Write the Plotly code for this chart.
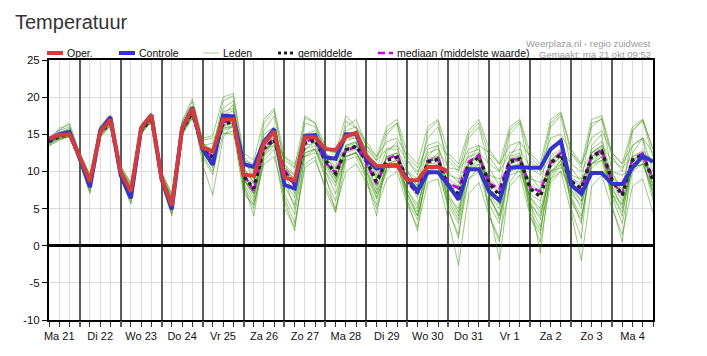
import plotly.graph_objects as go

# ---------------- data ----------------
DAY_LABELS = ["Ma 21", "Di 22", "Wo 23", "Do 24", "Vr 25", "Za 26", "Zo 27", "Ma 28",
              "Di 29", "Wo 30", "Do 31", "Vr 1", "Za 2", "Zo 3", "Ma 4"]
LEAD_HOURS = list(range(6, 361, 6))          # forecast steps, hours after Ma 21 00:00
Y_TICKS = [-10, -5, 0, 5, 10, 15, 20, 25]

OPER = [14.4, 14.9, 15.0,
        12.0, 8.6, 15.3, 17.0,
        9.9, 7.3, 15.8, 17.6,
        9.0, 5.4, 15.8, 18.5,
        13.2, 12.7, 17.0, 17.0,
        9.6, 9.4, 13.8, 15.4,
        9.2, 8.8, 14.6, 14.6,
        13.0, 12.9, 14.7, 15.2,
        12.1, 10.7, 10.8, 10.8,
        8.8, 8.8, 10.6, 10.6,
        10.0]

CONTROLE = [14.2, 15.0, 15.3,
            11.8, 7.9, 15.5, 17.3,
            9.5, 6.4, 15.8, 17.6,
            9.0, 4.9, 15.8, 18.6,
            13.0, 10.9, 17.5, 17.4,
            11.0, 10.6, 14.0, 15.7,
            8.2, 7.7, 14.8, 14.9,
            11.9, 11.7, 15.0, 15.0,
            11.6, 10.4, 10.8, 10.8,
            9.1, 7.3, 9.9, 9.9,
            8.2, 6.2, 10.3, 10.3,
            7.3, 6.1, 10.5, 10.6,
            10.5, 10.5, 13.0, 14.1,
            8.2, 7.0, 9.8, 9.8,
            8.3, 8.3, 10.5, 12.1,
            11.3]

GEMIDDELDE = [14.0, 14.7, 15.0,
              11.8, 8.3, 15.2, 16.6,
              9.8, 7.0, 15.5, 17.2,
              9.0, 5.5, 15.5, 18.0,
              13.0, 11.9, 16.4, 16.7,
              9.4, 7.7, 13.1, 14.3,
              9.8, 8.3, 13.8, 14.2,
              11.5, 9.7, 12.9, 13.4,
              11.5, 8.6, 11.5, 11.9,
              8.8, 7.1, 11.3, 11.6,
              7.9, 7.0, 10.9, 11.9,
              8.4, 6.8, 11.3, 11.7,
              7.7, 6.6, 11.1, 12.3,
              8.6, 7.7, 12.0, 12.7,
              8.8, 6.8, 11.5, 12.2,
              8.8]

MEDIAAN = [14.1, 14.8, 15.0,
           11.9, 8.4, 15.3, 16.8,
           9.8, 7.1, 15.6, 17.3,
           9.0, 5.6, 15.6, 18.1,
           13.0, 12.0, 16.6, 16.8,
           9.6, 7.4, 13.2, 14.5,
           10.3, 8.1, 14.0, 14.4,
           11.2, 9.8, 12.8, 13.3,
           11.2, 8.3, 11.6, 12.3,
           8.6, 7.0, 11.4, 11.8,
           8.4, 7.8, 11.3, 12.2,
           8.4, 7.6, 11.6, 11.6,
           7.9, 7.3, 11.2, 12.5,
           8.8, 7.6, 12.1, 12.9,
           8.6, 7.0, 11.7, 12.4,
           9.0]

LEDEN = [
    [13.6, 14.5, 15.2, 11.2, 7.0, 15.6, 17.0, 9.0, 5.6, 15.2, 17.4, 8.2, 4.0, 15.0, 18.6,
     12.0, 9.5, 17.5, 18.2, 7.5, 5.0, 12.5, 14.0, 7.0, 4.2, 12.0, 13.0, 9.0, 6.0, 12.0, 12.6,
     9.5, 6.3, 10.5, 11.0, 6.0, 3.5, 10.0, 10.8, 4.8, 1.5, 9.0, 10.5, 5.5, 3.0, 10.5, 11.2,
     4.5, 2.0, 9.5, 11.5, 6.0, 3.5, 11.0, 12.5, 7.0, 4.5, 10.5, 11.8, 6.0],
    [14.6, 15.2, 15.6, 12.4, 9.5, 14.8, 16.2, 10.6, 8.5, 15.8, 16.8, 9.8, 7.0, 16.0, 17.6,
     14.2, 14.5, 15.2, 15.0, 11.5, 11.0, 14.5, 15.0, 11.5, 10.5, 14.6, 14.8, 13.0, 12.5, 14.2, 14.5,
     13.0, 11.5, 13.0, 13.5, 11.5, 10.0, 12.5, 13.0, 10.5, 10.2, 12.0, 12.5, 11.0, 10.0, 12.5, 13.0,
     10.5, 9.5, 12.0, 13.0, 11.0, 10.0, 12.5, 13.5, 11.5, 10.5, 12.0, 12.8, 11.5],
    [14.2, 15.8, 16.3, 12.0, 8.8, 16.0, 17.5, 10.2, 7.6, 16.2, 17.8, 9.3, 6.0, 16.6, 19.4,
     13.8, 12.8, 19.5, 20.2, 11.8, 9.0, 16.5, 18.2, 11.0, 8.5, 17.2, 16.5, 12.5, 10.5, 16.8, 15.8,
     13.0, 10.0, 15.0, 16.5, 10.0, 8.0, 15.5, 16.8, 10.0, 8.5, 14.5, 16.0, 10.5, 8.0, 15.0, 16.5,
     9.5, 7.5, 16.0, 17.5, 10.5, 8.5, 16.5, 17.0, 10.0, 7.0, 15.5, 16.8, 12.0],
    [13.4, 14.2, 14.8, 11.5, 8.0, 15.0, 16.4, 9.5, 6.5, 15.0, 16.8, 8.8, 5.0, 15.2, 17.5,
     12.5, 10.8, 15.8, 16.0, 8.0, 5.5, 11.0, 12.0, 6.5, 3.0, 10.5, 11.5, 8.0, 5.0, 10.0, 11.0,
     8.5, 5.0, 9.0, 10.0, 5.5, 2.5, 8.5, 9.0, 3.5, -2.6, 7.0, 8.5, 4.0, 1.0, 8.0, 9.5,
     4.0, 0.5, 8.5, 10.0, 4.5, -2.0, 8.0, 9.5, 5.0, 1.5, 8.0, 9.0, 4.5],
    [13.9, 14.6, 14.9, 11.6, 8.0, 15.1, 16.5, 9.6, 6.8, 15.4, 17.0, 8.8, 5.2, 15.3, 17.8,
     12.8, 11.5, 16.0, 16.5, 9.0, 7.0, 12.8, 14.0, 9.5, 8.0, 13.5, 13.8, 11.0, 9.0, 12.5, 13.0,
     11.0, 8.0, 11.0, 11.5, 8.5, 6.5, 11.0, 11.2, 7.5, 6.5, 10.5, 11.5, 8.0, 6.0, 11.0, 11.5,
     7.0, 6.0, 10.8, 12.0, 8.0, 7.0, 11.5, 12.5, 8.5, 6.0, 11.0, 11.8, 8.5],
    [14.3, 15.0, 15.3, 12.0, 8.6, 15.4, 16.8, 10.0, 7.3, 15.7, 17.4, 9.2, 5.8, 15.7, 18.3,
     13.3, 12.3, 16.8, 17.0, 10.0, 8.3, 13.5, 14.8, 10.2, 8.8, 14.2, 14.6, 12.0, 10.3, 13.3, 13.8,
     12.0, 9.2, 12.0, 12.5, 9.3, 7.8, 11.8, 12.0, 8.5, 7.5, 11.4, 12.3, 9.0, 7.5, 11.7, 12.2,
     8.3, 7.3, 11.6, 12.8, 9.2, 8.3, 12.5, 13.2, 9.3, 7.5, 12.0, 12.6, 9.3],
    [14.0, 14.4, 14.6, 12.3, 9.2, 14.6, 16.0, 10.5, 8.0, 15.2, 16.6, 9.6, 6.5, 14.8, 17.2,
     13.5, 13.8, 18.0, 18.5, 10.5, 8.5, 15.0, 16.0, 9.0, 5.0, 13.0, 13.5, 10.0, 7.0, 12.0, 12.5,
     10.5, 7.0, 11.0, 11.0, 7.0, 4.0, 9.5, 10.0, 5.5, 3.0, 9.0, 10.0, 5.0, -1.9, 8.5, 10.5,
     5.5, 2.5, 9.0, 11.0, 6.5, 4.0, 10.5, 11.5, 6.5, 3.0, 10.0, 11.0, 7.0],
    [14.5, 15.3, 15.6, 12.2, 9.0, 15.8, 17.2, 10.3, 7.8, 15.9, 17.6, 9.5, 6.2, 16.2, 18.8,
     14.0, 12.0, 17.0, 17.5, 12.0, 10.5, 14.0, 14.5, 12.0, 11.0, 15.0, 15.5, 13.5, 12.0, 15.5, 16.0,
     13.5, 12.0, 14.0, 14.5, 12.0, 10.5, 13.5, 14.0, 12.0, 10.5, 13.0, 13.5, 12.5, 11.0, 13.5, 14.0,
     12.0, 10.5, 14.5, 15.0, 12.5, 11.0, 14.5, 15.5, 12.5, 11.0, 13.5, 14.5, 12.5],
    [13.7, 14.9, 15.4, 11.4, 7.5, 15.3, 16.9, 9.3, 6.2, 15.6, 17.1, 8.5, 4.3, 15.8, 18.4,
     11.0, 6.8, 14.5, 16.5, 8.5, 6.0, 13.5, 15.0, 10.0, 8.5, 14.5, 14.0, 11.0, 8.5, 12.0, 12.5,
     10.0, 6.5, 10.0, 11.5, 7.5, 5.0, 11.0, 12.5, 7.0, 4.5, 11.0, 12.5, 7.5, 5.5, 12.0, 12.5,
     6.0, -1.0, 10.5, 12.0, 7.5, 5.0, 12.0, 13.0, 8.0, 5.0, 11.5, 12.5, 8.0],
    [14.1, 15.2, 15.8, 11.8, 7.8, 15.5, 17.4, 9.6, 6.6, 15.8, 17.6, 8.6, 4.8, 15.4, 18.2,
     12.5, 10.5, 17.5, 19.0, 8.5, 4.0, 12.0, 14.5, 6.0, 2.0, 12.5, 13.0, 9.5, 4.5, 13.5, 14.0,
     9.0, 4.0, 12.5, 14.0, 6.0, 2.0, 12.0, 13.5, 5.0, 1.0, 11.5, 13.5, 4.0, 0.5, 12.0, 14.0,
     4.0, 1.5, 12.5, 14.5, 5.0, 1.0, 13.5, 15.0, 5.5, 0.5, 12.5, 14.5, 6.5],
    [14.3, 15.5, 16.0, 12.1, 8.5, 15.5, 17.0, 10.1, 7.5, 15.9, 17.5, 9.2, 5.8, 16.0, 18.8,
     13.5, 13.0, 18.5, 19.5, 10.5, 8.5, 15.5, 17.5, 11.0, 9.5, 16.5, 16.0, 12.5, 11.5, 16.0, 17.0,
     13.5, 11.5, 15.5, 16.5, 11.5, 9.5, 14.5, 16.0, 11.5, 10.0, 15.0, 16.5, 12.0, 10.0, 15.5, 16.8,
     11.5, 10.0, 16.5, 17.8, 12.5, 10.5, 16.0, 17.2, 12.0, 10.0, 15.5, 17.0, 13.0],
    [14.0, 14.8, 15.1, 11.9, 8.4, 15.2, 16.7, 9.9, 7.1, 15.5, 17.2, 9.1, 5.6, 15.6, 18.0,
     13.0, 12.0, 16.2, 16.5, 9.5, 7.5, 13.0, 14.0, 10.5, 9.0, 14.0, 14.5, 11.5, 9.0, 13.0, 13.5,
     11.5, 9.0, 12.0, 12.0, 9.0, 7.5, 11.5, 11.5, 8.5, 7.5, 11.0, 12.0, 8.5, 7.0, 11.0, 11.5,
     8.0, 7.0, 11.5, 12.5, 9.0, 8.0, 12.0, 12.5, 9.0, 7.0, 11.5, 12.0, 9.0],
    [13.5, 14.3, 14.7, 11.3, 7.2, 14.9, 16.3, 9.2, 5.8, 15.1, 16.8, 8.4, 4.5, 15.0, 17.6,
     12.2, 10.0, 15.0, 15.5, 7.0, 5.5, 11.5, 13.0, 5.0, 2.5, 11.0, 12.0, 7.5, 4.5, 11.5, 12.0,
     9.0, 5.5, 10.5, 11.0, 6.5, 4.0, 10.0, 10.5, 6.0, 3.5, 10.5, 11.0, 6.5, 4.0, 10.0, 11.0,
     5.5, 4.0, 10.0, 11.0, 7.0, 5.5, 11.0, 12.0, 7.0, 5.5, 10.5, 11.0, 7.5],
    [14.4, 14.9, 15.2, 12.2, 9.2, 15.0, 16.4, 10.4, 8.2, 15.3, 16.6, 9.5, 6.5, 15.2, 17.2,
     13.5, 12.5, 15.5, 16.0, 11.0, 10.0, 13.0, 13.5, 10.5, 9.5, 12.0, 12.5, 12.0, 11.5, 13.0, 13.5,
     12.0, 10.5, 11.0, 11.5, 10.0, 9.0, 10.5, 10.5, 9.5, 9.0, 10.0, 10.5, 9.5, 9.0, 10.0, 10.5,
     9.0, 8.5, 10.0, 10.5, 9.5, 9.0, 11.0, 11.5, 10.0, 9.5, 10.5, 11.0, 10.0],
    [14.6, 15.6, 16.5, 12.5, 9.6, 16.2, 17.6, 10.8, 8.4, 16.4, 17.9, 10.0, 6.8, 16.8, 19.8,
     14.5, 14.8, 20.0, 20.5, 12.5, 11.5, 17.0, 18.5, 12.0, 10.5, 17.5, 16.5, 13.5, 12.5, 17.5, 16.0,
     14.0, 12.0, 16.0, 17.0, 12.5, 11.0, 16.0, 17.0, 12.5, 11.0, 15.5, 17.0, 13.0, 11.0, 16.0, 17.0,
     12.5, 11.0, 17.0, 18.0, 13.0, 11.0, 17.0, 17.5, 12.5, 11.0, 16.0, 17.0, 13.0],
    [13.8, 14.4, 14.7, 11.6, 8.1, 14.7, 16.2, 9.6, 6.9, 15.1, 16.9, 8.9, 5.3, 15.1, 17.6,
     12.6, 11.0, 15.8, 16.2, 9.0, 6.5, 12.0, 13.5, 8.5, 6.5, 12.5, 13.0, 10.0, 8.0, 12.0, 12.5,
     10.0, 7.0, 10.5, 11.0, 7.5, 5.5, 10.5, 11.0, 6.5, 5.0, 10.0, 11.0, 7.0, 5.0, 10.5, 11.0,
     6.5, 5.0, 10.0, 11.5, 7.5, 6.0, 11.0, 12.0, 7.5, 5.5, 10.5, 11.5, 7.5],
    [14.2, 14.6, 14.9, 11.9, 8.7, 15.1, 16.6, 9.8, 7.2, 15.3, 17.0, 9.0, 5.6, 15.3, 17.8,
     13.0, 12.5, 16.8, 17.2, 9.0, 7.0, 14.0, 15.5, 9.5, 7.0, 14.5, 15.0, 12.0, 10.0, 14.5, 14.5,
     12.5, 9.5, 13.0, 13.0, 10.0, 8.0, 13.0, 13.5, 9.0, 8.0, 12.5, 13.0, 7.0, 3.5, 9.5, 10.0,
     6.5, 4.5, 9.0, 10.0, 8.0, 6.0, 13.0, 14.0, 9.5, 8.0, 13.5, 14.5, 10.0],
    [14.1, 14.7, 15.0, 11.7, 8.2, 15.2, 16.6, 9.7, 7.0, 15.4, 17.1, 8.9, 5.4, 15.4, 17.9,
     12.8, 11.5, 16.2, 16.8, 9.0, 7.0, 12.5, 14.0, 8.0, 5.5, 13.0, 14.0, 10.5, 8.5, 13.5, 14.0,
     11.0, 7.5, 12.0, 12.5, 7.0, 4.5, 11.5, 12.0, 6.5, 4.0, 11.0, 12.0, 6.5, 4.0, 11.5, 12.0,
     6.0, 3.5, 11.0, 12.5, 6.5, 3.0, 12.5, 13.5, 7.0, 4.0, 11.5, 12.5, 8.0],
]

# ---------------- style ----------------
FONT = "Liberation Sans, Arial, sans-serif"
RED = "#d43c3c"
BLUE = "#3434cc"
MAGENTA = "#cc00ee"
MEMBER = "rgba(55,150,5,0.5)"
DAYLINE = "#5c5c5c"

fig = go.Figure()

# ensemble members on the base x axis; summary lines on an overlaid x axis (same range),
# which is drawn on top and whose grid marks the day boundaries
for m in LEDEN:
    fig.add_trace(go.Scatter(x=LEAD_HOURS, y=m, mode="lines", line=dict(color=MEMBER, width=1),
                             showlegend=False, hoverinfo="skip", xaxis="x", yaxis="y"))

fig.add_trace(go.Scatter(x=LEAD_HOURS, y=MEDIAAN, mode="lines", name="mediaan (middelste waarde)",
                         line=dict(color=MAGENTA, width=2.5, dash="7px,4px"), showlegend=False,
                         xaxis="x2"))
fig.add_trace(go.Scatter(x=LEAD_HOURS, y=GEMIDDELDE, mode="lines", name="gemiddelde",
                         line=dict(color="#222222", width=3.5, dash="dot"), showlegend=False,
                         xaxis="x2"))
fig.add_trace(go.Scatter(x=LEAD_HOURS, y=CONTROLE, mode="lines", name="Controle",
                         line=dict(color=BLUE, width=4), showlegend=False, xaxis="x2"))
fig.add_trace(go.Scatter(x=LEAD_HOURS[:len(OPER)], y=OPER, mode="lines", name="Oper.",
                         line=dict(color=RED, width=4), showlegend=False, xaxis="x2"))

noon = [12 + 24 * k for k in range(len(DAY_LABELS))]
midnights = [24 * k for k in range(1, len(DAY_LABELS))]

# geometry: the page body has an 8px margin, so the figure is sized to end at the window edge
BODY = 8
W, H = 707 - BODY, 356 - BODY
ML, MR, MT, MB = 49 - BODY, 54, 60 - BODY, 36
PW, PH = W - ML - MR, H - MT - MB


def px(xp):
    """page x pixel -> paper coordinate"""
    return (xp - BODY - ML) / PW


def py(yp):
    """page y pixel -> paper coordinate"""
    return 1 + (MT - (yp - BODY)) / PH


shapes = []
# legend (drawn manually to match the compact original)
legend_y = py(53)
legend_items = [
    ("Oper.", 47, 63, dict(color=RED, width=4)),
    ("Controle", 119, 135, dict(color=BLUE, width=4)),
    ("Leden", 203, 219, dict(color="rgba(55,150,5,0.45)", width=1)),
    ("gemiddelde", 278, 294, dict(color="#222222", width=3, dash="dot")),
    ("mediaan (middelste waarde)", 378, 393, dict(color=MAGENTA, width=2.5, dash="7px,4px")),
]
annotations = []
for label, a, b, ln in legend_items:
    shapes.append(dict(type="line", xref="paper", yref="paper", x0=px(a), x1=px(b), y0=legend_y, y1=legend_y,
                       line=ln))
    annotations.append(dict(text=label, xref="paper", yref="paper", x=px(b + 2), y=legend_y,
                            xanchor="left", yanchor="middle", showarrow=False,
                            font=dict(family=FONT, size=10.5, color="#111111")))

annotations.append(dict(text="Temperatuur", xref="paper", yref="paper", x=px(13), y=py(22),
                        xanchor="left", yanchor="middle", showarrow=False,
                        font=dict(family=FONT, size=20, color="#333333")))
annotations.append(dict(text="Weerplaza.nl - regio zuidwest", xref="paper", yref="paper", x=1, y=py(43),
                        xanchor="right", yanchor="middle", showarrow=False,
                        font=dict(family=FONT, size=9.5, color="#9a9a9a")))
annotations.append(dict(text="Gemaakt: ma 21 okt 09:52", xref="paper", yref="paper", x=1, y=py(54),
                        xanchor="right", yanchor="middle", showarrow=False,
                        font=dict(family=FONT, size=9.5, color="#9a9a9a")))

x_range = [LEAD_HOURS[0], LEAD_HOURS[-1]]
fig.update_layout(
    width=W, height=H,
    margin=dict(l=ML, r=MR, t=MT, b=MB, pad=0),
    paper_bgcolor="white", plot_bgcolor="white",
    showlegend=False,
    shapes=shapes, annotations=annotations,
    font=dict(family=FONT, size=11, color="#111111"),
    xaxis=dict(
        range=x_range,
        tickmode="array", tickvals=noon, ticktext=DAY_LABELS,
        ticks="outside", ticklen=5, tickcolor="#333333", tickwidth=1,
        showgrid=True, gridcolor="#dddddd", gridwidth=1,
        minor=dict(tickmode="linear", tick0=0, dtick=6, showgrid=True, gridcolor="#dddddd",
                   gridwidth=1, ticks="outside", ticklen=5, tickcolor="#333333"),
        showline=True, linecolor="black", linewidth=2, mirror=True,
        zeroline=False, tickfont=dict(family=FONT, size=11, color="#111111"),
        fixedrange=True,
    ),
    xaxis2=dict(
        overlaying="x", anchor="y", side="bottom", range=x_range,
        tickmode="array", tickvals=midnights, showticklabels=False,
        ticks="outside", ticklen=6, tickcolor=DAYLINE, tickwidth=1.5,
        showgrid=True, gridcolor=DAYLINE, gridwidth=1.5,
        showline=False, zeroline=False, fixedrange=True,
    ),
    yaxis=dict(
        range=[-10, 25], tickmode="array", tickvals=Y_TICKS, ticktext=[str(v) for v in Y_TICKS],
        ticks="outside", ticklen=5, tickcolor="black",
        showgrid=True, gridcolor="#dddddd", gridwidth=1,
        showline=True, linecolor="black", linewidth=2, mirror=True,
        zeroline=True, zerolinecolor="black", zerolinewidth=3,
        tickfont=dict(family=FONT, size=11.5, color="#111111"),
        fixedrange=True,
    ),
)

fig.write_html("out.html")
